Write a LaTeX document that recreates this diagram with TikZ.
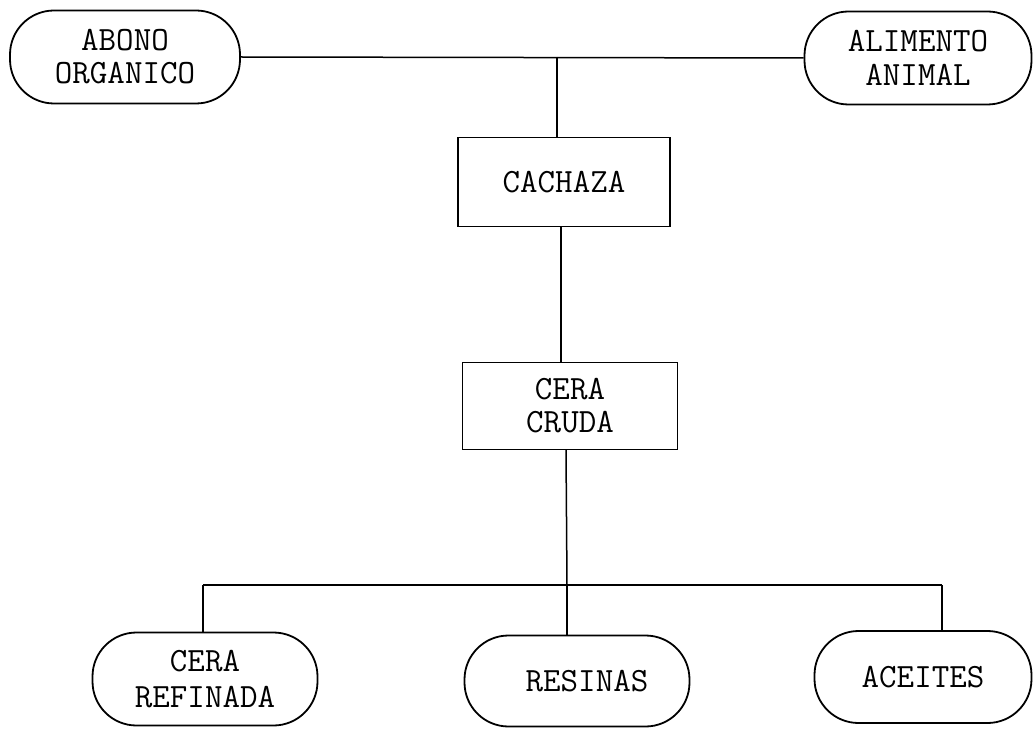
\documentclass[tikz,border=0pt]{standalone}
\usepackage{fontspec}
\begin{document}
\begin{tikzpicture}[x=1pt,y=-1pt,
  txt/.style={font=\fontsize{34}{30}\selectfont\ttfamily, align=center, inner sep=0pt},
  pill/.style={txt, draw, line width=1.8pt, rounded corners=44pt},
  boxed/.style={txt, draw, line width=1.8pt},
  conn/.style={line width=1.5pt}]
\useasboundingbox (0,0) rectangle (1034,730);
% top row
\node[pill, minimum width=230pt, minimum height=93pt] (abono) at (125,57) {ABONO\\[3pt]ORGANICO};
\node[pill, minimum width=227pt, minimum height=93pt] (alimento) at (918,58) {ALIMENTO\\[4pt]ANIMAL};
% middle boxes
\node[boxed, minimum width=212pt, minimum height=89pt] (cachaza) at (564,182) {CACHAZA};
\node[boxed, minimum width=215pt, minimum height=87pt] (cruda) at (570,406) {CERA\\[3pt]CRUDA};
% bottom row
\node[pill, minimum width=225pt, minimum height=93pt] (refinada) at (205,679) {CERA\\[6pt]REFINADA};
\node[pill, minimum width=225pt, minimum height=91pt] (resinas) at (577,681) {\hspace*{20pt}RESINAS};
\node[pill, minimum width=217pt, minimum height=92pt] (aceites) at (923,677) {ACEITES};
% connectors
\draw[conn] (abono.east) -- (alimento.west);
\coordinate (jt) at (557,57);
\draw[conn] (jt) -- (jt |- cachaza.north);
\coordinate (jm) at (561,227);
\draw[conn] (jm) -- (jm |- cruda.north);
\coordinate (jc) at (566,450);
\coordinate (bl) at (203,585);
\coordinate (bm) at (567,585);
\coordinate (br) at (942,585);
\draw[conn] (jc) -- (bm);
\draw[conn] (bl) -- (br);
\draw[conn] (bl) -- (bl |- refinada.north);
\draw[conn] (bm) -- (bm |- resinas.north);
\draw[conn] (br) -- (br |- aceites.north);
\end{tikzpicture}
\end{document}
